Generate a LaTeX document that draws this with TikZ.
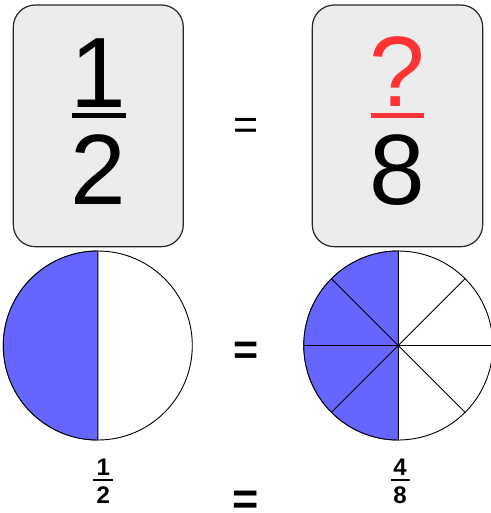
\documentclass[tikz,border=0pt]{standalone}
\usepackage{fontspec}
\setmainfont{Liberation Sans}
\usepackage{xcolor}
\usetikzlibrary{positioning,calc}
\definecolor{cardgray}{HTML}{ECECEC}
\definecolor{pieblue}{HTML}{6666FF}
\definecolor{askred}{HTML}{FF3333}

\begin{document}
\begin{tikzpicture}[
  x=1pt, y=-1pt,
  card/.style={draw=black!85, fill=cardgray, line width=1.2pt, rounded corners=22pt},
  bignum/.style={inner sep=0pt, anchor=base, font=\fontsize{100}{100}\selectfont},
  smallnum/.style={inner sep=0pt, anchor=base, font=\fontsize{24}{24}\selectfont\bfseries},
  eqsign/.style={inner sep=0pt, anchor=center, font=\fontsize{43}{43}\selectfont},
  boldeq/.style={eqsign, font=\fontsize{43}{43}\selectfont\bfseries},
  bigbar/.style={line width=5pt},
  smallbar/.style={line width=2pt},
  pie/.style={circle, draw=black, fill=white, line width=0.9pt, minimum size=189pt, inner sep=0pt, outer sep=0pt},
  sector/.style={fill=pieblue, draw=black, line width=0.9pt},
  spoke/.style={line width=0.9pt},
]
\useasboundingbox (0,0) rectangle (490,513);

% fraction cards
\draw[card] (13.3,5) rectangle (183.3,246.7);
\draw[card] (312.3,5) rectangle (482.7,246.7);

\node[bignum] (numL) at (98.3,108) {1};
\node[bignum] (denL) at (98.3,204.5) {2};
\draw[bigbar] (71.7,115.2) -- (125.7,115.2);

\node[eqsign] (eqTop) at (246.2,129) {=};

\node[bignum, text=askred] (numR) at (397.5,107) {?};
\node[bignum] (denR) at (397.5,204.5) {8};
\draw[bigbar, askred] (370.7,115.2) -- (424.3,115.2);

% pies
\node[pie] (pieL) at (97.8,345.5) {};
\filldraw[sector] (pieL.north) arc[start angle=90, end angle=270, radius=94.5pt] -- cycle;

\node[boldeq] (eqMid) at (246.2,353) {=};

\node[pie] (pieR) at (398.3,345.5) {};
\filldraw[sector] (pieR.north) arc[start angle=90, end angle=270, radius=94.5pt] -- cycle;
\foreach \a in {0,45,...,315}
  \draw[spoke] (pieR.center) -- (pieR.\a);

% small fractions
\node[smallnum] (numLs) at (103.3,475) {1};
\node[smallnum] (denLs) at (103.3,503.3) {2};
\draw[smallbar] (93.3,480.3) -- (113.3,480.3);

\node[boldeq, font=\fontsize{45}{45}\selectfont\bfseries] (eqBot) at (245.8,503.2) {=};

\node[smallnum] (numRs) at (400,475) {4};
\node[smallnum] (denRs) at (400,503.3) {8};
\draw[smallbar] (390.5,480.3) -- (409.8,480.3);
\end{tikzpicture}
\end{document}
